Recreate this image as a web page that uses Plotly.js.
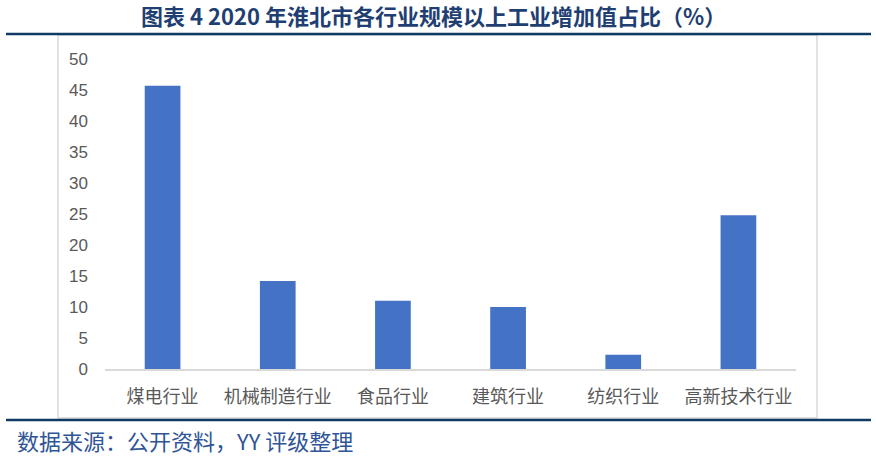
<!DOCTYPE html>
<html><head><meta charset="utf-8">
<script src="https://cdn.plot.ly/plotly-3.0.1.min.js"></script>
<style>html,body{margin:0;padding:0;background:#fff;}</style>
</head><body><div id="chart" style="width:876px;height:465px;"></div>
<script>
const categories = ['煤电行业','机械制造行业','食品行业','建筑行业','纺织行业','高新技术行业'];
const values = [45.7, 14.2, 11.0, 10.0, 2.3, 24.8];
const yTicks = [0,5,10,15,20,25,30,35,40,45,50];
const titleText = '图表 4 2020 年淮北市各行业规模以上工业增加值占比（%）';
const sourceText = '数据来源：公开资料，YY 评级整理';

const W = 876, H = 465;
const M = {l:105, r:80, t:59, b:96};
const PW = W - M.l - M.r, PH = H - M.t - M.b;
const px = x => (x - M.l) / PW;
const py = y => (H - M.b - y) / PH;

const navy = '#0E3A63';
const layout = {
  width: W, height: H,
  margin: M,
  paper_bgcolor: '#fff', plot_bgcolor: '#fff',
  showlegend: false,
  bargap: 0.69,
  font: {family: '"Noto Sans CJK SC", "Liberation Sans", sans-serif'},
  title: {
    text: '<b>' + titleText + '</b>',
    font: {size: 22, color: '#1F3F73', family: '"Noto Sans CJK SC", sans-serif'},
    x: 0.495, xref: 'container', xanchor: 'center',
    y: 1 - 17/H, yref: 'container', yanchor: 'middle'
  },
  xaxis: {
    type: 'category',
    showgrid: false, zeroline: false,
    showline: true, linecolor: '#D9D9D9', linewidth: 2,
    ticks: '', ticklabelstandoff: 10,
    tickfont: {size: 18, color: '#595959', family: '"Noto Sans CJK SC", sans-serif'}
  },
  yaxis: {
    range: [0, 50],
    tickvals: yTicks,
    showgrid: false, zeroline: false, showline: false,
    ticks: '', ticklabelstandoff: 16,
    tickfont: {size: 17, color: '#595959', family: '"Liberation Sans", Arial, sans-serif'}
  },
  shapes: [
    {type:'rect', xref:'paper', yref:'paper', x0:px(58), x1:px(817), y0:py(418), y1:py(35),
     line:{color:'#D9D9D9', width:1.5}, fillcolor:'rgba(0,0,0,0)', layer:'below'},
    {type:'line', xref:'paper', yref:'paper', x0:px(6), x1:px(871), y0:py(34), y1:py(34),
     line:{color:navy, width:2.5}},
    {type:'line', xref:'paper', yref:'paper', x0:px(6), x1:px(871), y0:py(420), y1:py(420),
     line:{color:navy, width:2.5}}
  ],
  annotations: [
    {text: sourceText, xref:'paper', yref:'paper', x:px(15), y:py(440),
     xanchor:'left', yanchor:'middle', showarrow:false,
     font:{size: 22, color:'#2F5597', family:'"Noto Sans CJK SC", sans-serif'}}
  ]
};

const data = [{
  type: 'bar',
  x: categories,
  y: values,
  marker: {color: '#4472C4'},
  hoverinfo: 'x+y'
}];

Plotly.newPlot('chart', data, layout, {displayModeBar: false, staticPlot: true});
</script>
</body></html>
